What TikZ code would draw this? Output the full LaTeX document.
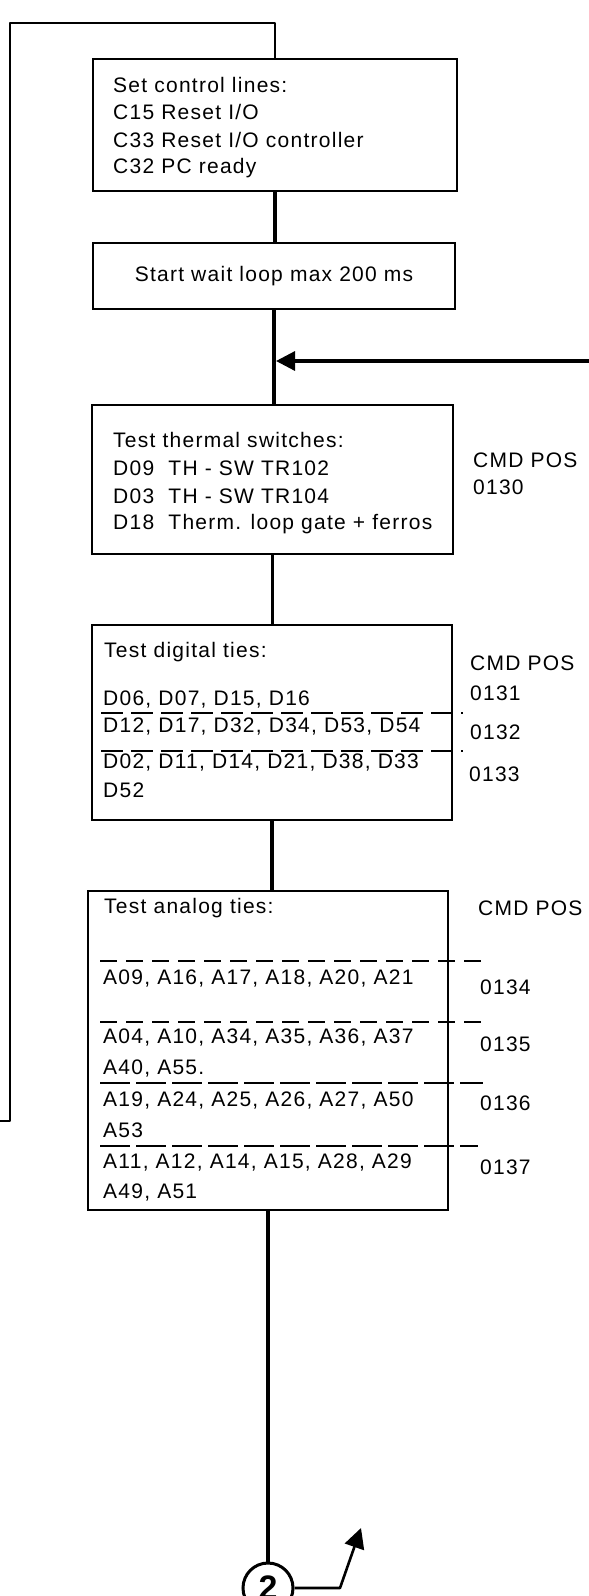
\documentclass[tikz,border=0pt]{standalone}
\usepackage{fontspec}
\setmainfont{Liberation Sans}[LetterSpace=6]
\newfontfamily\circfont{Liberation Sans}[LetterSpace=0]
\usetikzlibrary{arrows.meta}
\begin{document}
\begin{tikzpicture}[x=1pt,y=-1pt,
  box/.style={draw, line width=1.8pt, rectangle, inner sep=0pt},
  txt/.style={anchor=west, inner sep=0pt, font=\fontsize{21}{24}\selectfont},
  ctxt/.style={inner sep=0pt, font=\fontsize{21}{24}\selectfont},
  flow/.style={line width=3.2pt},
  loopline/.style={line width=2.4pt, line join=round},
  dla/.style={line width=1.3pt, dash pattern=on 22pt off 8pt},
  dlb/.style={line width=1.3pt, dash pattern=on 17pt off 9pt},
  dlc/.style={line width=1.3pt, dash pattern=on 30pt off 6pt},
  tipin/.style={-{Triangle[length=19pt,width=19pt]}},
  tipout/.style={-{Triangle[length=20pt,width=20pt]}}
]
\useasboundingbox (0,0) rectangle (589,1596);
\fill[white] (0,0) rectangle (589,1596);
\clip (0,0) rectangle (589,1596);

% boxes
\node[box, minimum width=364pt, minimum height=132pt] (b1) at (275,125) {};
\node[box, minimum width=362pt, minimum height=66pt] (b2) at (274,276) {};
\node[box, minimum width=361pt, minimum height=149pt] (b3) at (272.5,479.5) {};
\node[box, minimum width=360pt, minimum height=195pt] (b4) at (272,722.5) {};
\node[box, minimum width=360pt, minimum height=319pt] (b5) at (268,1050.5) {};

% box 1 text
\node[txt] (t1a) at (113,85) {Set control lines:};
\node[txt] (t1b) at (113,112) {C15 Reset I/O};
\node[txt] (t1c) at (113,140) {C33 Reset I/O controller};
\node[txt] (t1d) at (113,168) {C32 PC ready};

% box 2 text
\node[ctxt] (t2) at (b2.center) {Start wait loop max 200 ms};

% box 3 text
\node[txt] (t3a) at (113,440) {Test thermal switches:};
\node[txt] (t3b) at (113,468) {D09\ \ TH - SW TR102};
\node[txt] (t3c) at (113,496) {D03\ \ TH - SW TR104};
\node[txt] (t3d) at (113,524) {D18\ \ Therm. loop gate + ferros};
\node[txt] (p3a) at (473,460) {CMD POS};
\node[txt] (p3b) at (473,487) {0130};

% box 4 text
\node[txt] (t4a) at (104,652) {Test digital ties:};
\node[txt] (t4b) at (103,700) {D06, D07, D15, D16};
\node[txt] (t4c) at (103,727) {D12, D17, D32, D34, D53, D54};
\node[txt] (t4d) at (103,763) {D02, D11, D14, D21, D38, D33};
\node[txt] (t4e) at (103,790) {D52};
\node[txt] (p4a) at (470,663) {CMD POS};
\node[txt] (p4b) at (470,693) {0131};
\node[txt] (p4c) at (470,732) {0132};
\node[txt] (p4d) at (469,774) {0133};
\coordinate (d4a) at (101,713);
\coordinate (d4b) at (101,751);
\draw[dla] (d4a) -- (463,713);
\draw[dla] (d4b) -- (463,751);

% box 5 text
\node[txt] (t5a) at (104,908) {Test analog ties:};
\node[txt] (p5a) at (478,908) {CMD POS};
\node[txt] (t5b) at (103,978) {A09, A16, A17, A18, A20, A21};
\node[txt] (p5b) at (480,987) {0134};
\node[txt] (t5c) at (103,1037) {A04, A10, A34, A35, A36, A37};
\node[txt] (t5d) at (103,1068) {A40, A55.};
\node[txt] (p5c) at (480,1044) {0135};
\node[txt] (t5e) at (103,1100) {A19, A24, A25, A26, A27, A50};
\node[txt] (t5f) at (103,1130) {A53};
\node[txt] (p5d) at (480,1103) {0136};
\node[txt] (t5g) at (103,1162) {A11, A12, A14, A15, A28, A29};
\node[txt] (t5h) at (103,1192) {A49, A51};
\node[txt] (p5e) at (480,1167) {0137};
\coordinate (d5a) at (100,961);
\coordinate (d5b) at (100,1022);
\coordinate (d5c) at (100,1083);
\coordinate (d5d) at (100,1146);
\draw[dlb] (d5a) -- (485,961);
\draw[dlb] (d5b) -- (485,1022);
\draw[dlc] (d5c) -- (483,1083);
\draw[dlc] (d5d) -- (478,1146);

% connector circle
\node[circle, draw, line width=3pt, minimum size=50pt, inner sep=0pt,
      font=\circfont\bfseries\fontsize{34}{34}\selectfont] (c2) at (268,1588) {2};

% flow lines
\coordinate (lin) at (0,1121);
\draw[loopline] (lin) -- (10,1121) -- (10,23) -| (b1.north);
\draw[flow] (b1.south) -- (b1.south |- b2.north);
\draw[flow] (b2.south) -- (b2.south |- b3.north);
\draw[flow] (b3.south) -- (b3.south |- b4.north);
\draw[flow] (b4.south) -- (b4.south |- b5.north);
\draw[flow] (b5.south) -- (c2.north);

% incoming arrow
\coordinate (ain) at (589,361);
\draw[flow, tipin] (ain) -- ([xshift=2pt]ain -| b2.south);

% outgoing arrow
\coordinate (aout) at (361,1528);
\draw[line width=2.6pt, line join=round, tipout] (c2.east) -- (340,1588) -- (aout);
\end{tikzpicture}
\end{document}
